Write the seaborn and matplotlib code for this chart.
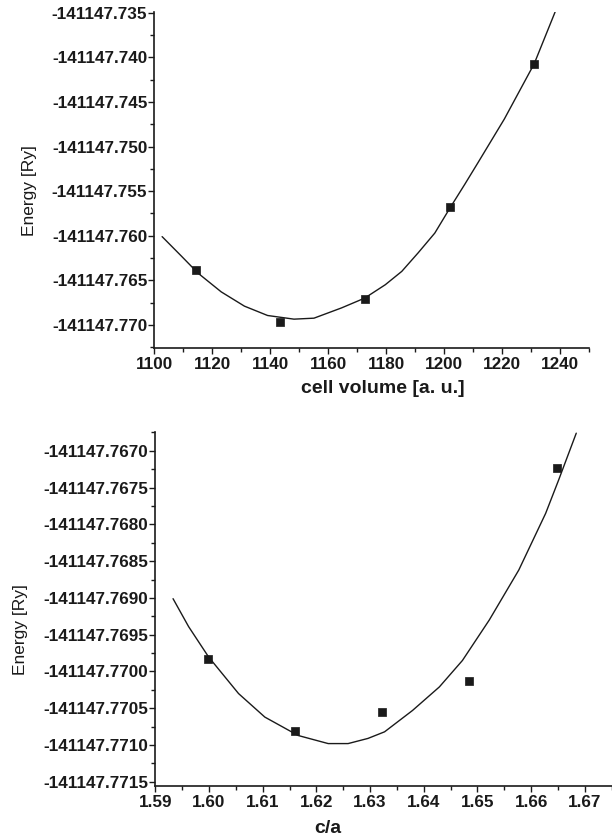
import numpy as np
import pandas as pd
import matplotlib
matplotlib.use("Agg")
import matplotlib.pyplot as plt
import seaborn as sns
from matplotlib.ticker import FixedLocator, FormatStrFormatter, AutoMinorLocator

# calculated points, cell volume scan
vol_pts = [1114.3, 1143.5, 1172.7, 1202.0, 1231.1]
e_vol_pts = [-141147.7639, -141147.7697, -141147.7671, -141147.7568, -141147.7407]

# fitted curve, cell volume scan
vol_fit = [1102.7, 1109.4, 1115.1, 1123.1, 1131.1, 1139.1, 1148.2, 1155.1, 1164.6,
           1172.6, 1179.7, 1185.4, 1191.1, 1196.8, 1202.0, 1207.1, 1211.7, 1220.8,
           1231.1, 1238.3]
e_vol_fit = [-141147.7601, -141147.7623, -141147.7642, -141147.7663, -141147.7679,
             -141147.76895, -141147.76936, -141147.76925, -141147.7681, -141147.7670,
             -141147.7655, -141147.7640, -141147.7619, -141147.7597, -141147.7569,
             -141147.75425, -141147.7518, -141147.7469, -141147.7407, -141147.7349]

# calculated points, c/a scan
ca_pts = [1.5998, 1.6160, 1.6323, 1.6484, 1.6649]
e_ca_pts = [-141147.76983, -141147.77081, -141147.77055, -141147.77013, -141147.76723]

# fitted curve, c/a scan
ca_fit = [1.5933, 1.5962, 1.5999, 1.6055, 1.6104, 1.6166, 1.6222, 1.6259, 1.6296,
          1.6327, 1.6379, 1.6429, 1.6472, 1.6522, 1.6577, 1.6627, 1.6651, 1.6684]
e_ca_fit = [-141147.76901, -141147.76939, -141147.7698, -141147.7703, -141147.77062,
            -141147.77087, -141147.77098, -141147.77098, -141147.77091, -141147.77082,
            -141147.77053, -141147.77021, -141147.76985, -141147.7693, -141147.76862,
            -141147.76785, -141147.7674, -141147.76676]

# tick values
vol_xticks = [1100, 1120, 1140, 1160, 1180, 1200, 1220, 1240]
vol_yticks = [-141147.770, -141147.765, -141147.760, -141147.755, -141147.750,
              -141147.745, -141147.740, -141147.735]
ca_xticks = [1.59, 1.60, 1.61, 1.62, 1.63, 1.64, 1.65, 1.66, 1.67]
ca_yticks = [-141147.7715, -141147.7710, -141147.7705, -141147.7700, -141147.7695,
             -141147.7690, -141147.7685, -141147.7680, -141147.7675, -141147.7670]

sns.set_theme(style="ticks")
plt.rcParams['font.family'] = ['Liberation Sans', 'DejaVu Sans']
plt.rcParams['axes.unicode_minus'] = False

fig = plt.figure(figsize=(6.12, 8.36), dpi=100)
ax1 = fig.add_axes([0.2521, 0.5837, 0.7103, 0.4019])
ax2 = fig.add_axes([0.2538, 0.0604, 0.7457, 0.4232])

ink = '#1a1a1a'

panels = [
    (ax1, vol_pts, e_vol_pts, vol_fit, e_vol_fit, vol_xticks, vol_yticks,
     '%d', '%.3f', (1100, 1250), (-141147.7726, -141147.7349), 'cell volume [a. u.]',
     (0.5257, -0.0952), (-0.270, 0.470)),
    (ax2, ca_pts, e_ca_pts, ca_fit, e_ca_fit, ca_xticks, ca_yticks,
     '%.2f', '%.4f', (1.59, 1.675), (-141147.77155, -141147.76674), 'c/a',
     (0.3784, -0.0975), (-0.279, 0.4395)),
]

for ax, xp, yp, xf, yf, xt, yt, xfmt, yfmt, xlim, ylim, xlab, xlc, ylc in panels:
    fit = pd.DataFrame({'x': xf, 'y': yf})
    pts = pd.DataFrame({'x': xp, 'y': yp})
    sns.lineplot(data=fit, x='x', y='y', ax=ax, color=ink, lw=1.0, sort=False,
                 estimator=None)
    sns.scatterplot(data=pts, x='x', y='y', ax=ax, marker='s', s=30, color=ink,
                    edgecolor=ink, linewidth=0.5, zorder=3)

    ax.set_xlim(*xlim)
    ax.set_ylim(*ylim)
    ax.xaxis.set_major_locator(FixedLocator(xt))
    ax.yaxis.set_major_locator(FixedLocator(yt))
    ax.xaxis.set_major_formatter(FormatStrFormatter(xfmt))
    ax.yaxis.set_major_formatter(FormatStrFormatter(yfmt))
    ax.xaxis.set_minor_locator(AutoMinorLocator(2))
    ax.yaxis.set_minor_locator(AutoMinorLocator(2))

    ax.tick_params(axis='both', which='major', length=4.5, width=1.0, color=ink,
                   labelsize=12.3, labelcolor=ink)
    ax.tick_params(axis='both', which='minor', length=3, width=1.0, color=ink)
    ax.tick_params(axis='y', which='major', pad=0.5)
    ax.tick_params(axis='x', which='major', pad=2)
    for lab in ax.get_xticklabels() + ax.get_yticklabels():
        lab.set_fontweight('bold')

    sns.despine(ax=ax)
    for side in ['left', 'bottom']:
        ax.spines[side].set_linewidth(1.2)
        ax.spines[side].set_color(ink)

    ax.set_xlabel(xlab, fontsize=14, fontweight='bold', color=ink)
    ax.set_ylabel('Energy [Ry]', fontsize=12.5, color=ink)
    ax.xaxis.set_label_coords(*xlc)
    ax.yaxis.set_label_coords(*ylc)

fig.savefig('out.png', dpi=100)
